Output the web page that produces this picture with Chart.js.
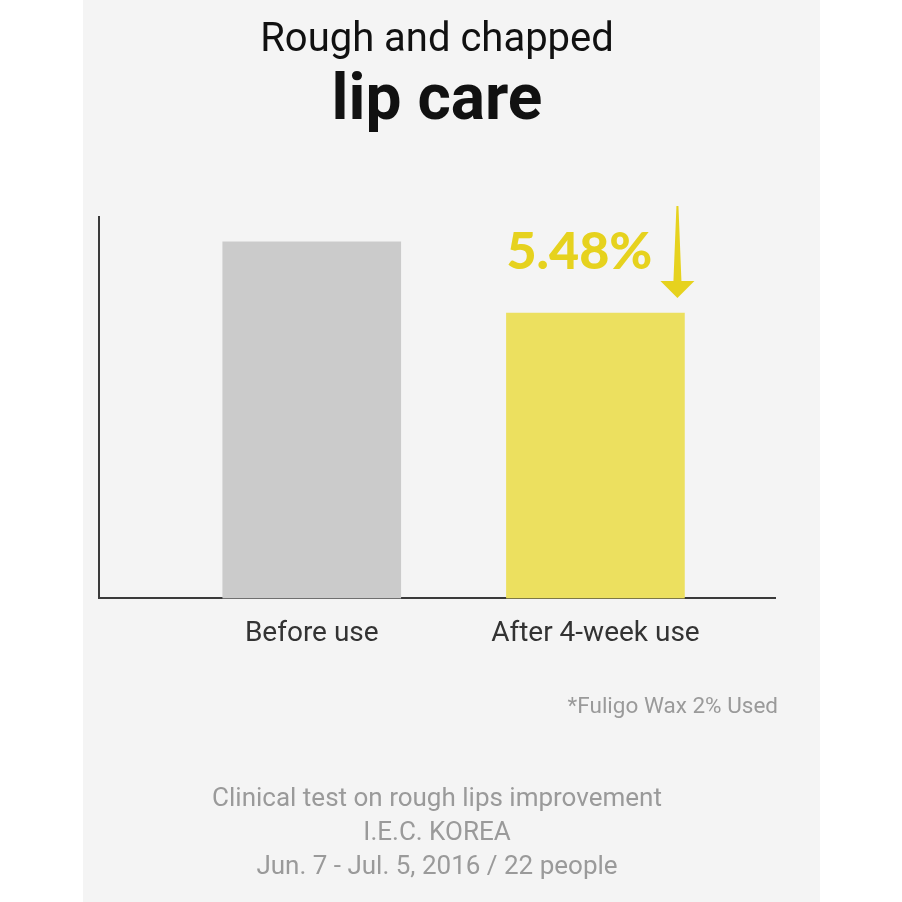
<!DOCTYPE html>
<html>
<head>
<meta charset="utf-8">
<script src="https://cdn.jsdelivr.net/npm/chart.js@4"></script>
<style>
  html, body { margin: 0; padding: 0; background: #ffffff; }
  #panel { position: absolute; left: 83px; top: 0; width: 737px; height: 902px; background: #f4f4f4; }
  #wrap { position: absolute; left: 0; top: 0; width: 708px; height: 902px; }
</style>
</head>
<body>
<div id="panel">
  <div id="wrap"><canvas id="chart"></canvas></div>
</div>
<script>
// Chart data
const categories = ['Before use', 'After 4-week use'];
const values = [100, 80];
const barColors = ['#cbcbcb', '#ece05f'];
const changeLabel = '5.48%';
const footnote = '*Fuligo Wax 2% Used';
const footerLines = [
  'Clinical test on rough lips improvement',
  'I.E.C. KOREA',
  'Jun. 7 - Jul. 5, 2016 / 22 people'
];

const accent = '#e6d21e';

// Draws the change label, arrow and notes below the chart
const notesPlugin = {
  id: 'notes',
  afterDatasetsDraw(chart) {
    const ctx = chart.ctx;
    const area = chart.chartArea;
    const bar = chart.getDatasetMeta(0).data[1];
    const half = bar.width / 2;

    ctx.save();
    // change label
    ctx.fillStyle = accent;
    ctx.font = '900 52px Lato';
    ctx.textAlign = 'left';
    ctx.textBaseline = 'alphabetic';
    ctx.fillText(changeLabel, bar.x - half, bar.y - 44);

    // down arrow
    const ax = bar.x + half - 7;
    const tip = bar.y - 15;
    const head = tip - 17;
    const top = tip - 92;
    ctx.beginPath();
    ctx.moveTo(ax - 1, top);
    ctx.lineTo(ax + 1, top);
    ctx.lineTo(ax + 4, head);
    ctx.lineTo(ax + 17, head);
    ctx.lineTo(ax, tip);
    ctx.lineTo(ax - 17, head);
    ctx.lineTo(ax - 4, head);
    ctx.closePath();
    ctx.fill();

    // footnote
    ctx.fillStyle = '#9a9a9a';
    ctx.font = '22.5px Roboto';
    ctx.textAlign = 'right';
    ctx.textBaseline = 'middle';
    ctx.fillText(footnote, area.right + 3, area.bottom + 109);

    // footer
    ctx.font = '26px Roboto';
    ctx.textAlign = 'center';
    footerLines.forEach((line, i) => {
      ctx.fillText(line, chart.width / 2, area.bottom + 201 + i * 34);
    });
    ctx.restore();
  }
};

const ctx = document.getElementById('chart');

new Chart(ctx, {
  type: 'bar',
  data: {
    datasets: [{
      data: values.map((v, i) => ({ x: i + 1, y: v })),
      backgroundColor: barColors,
      borderWidth: 0,
      barThickness: 178
    }]
  },
  options: {
    responsive: true,
    maintainAspectRatio: false,
    animation: false,
    layout: {
      padding: { left: 16, right: 16, top: 0, bottom: 240 }
    },
    plugins: {
      legend: { display: false },
      tooltip: { enabled: false },
      title: {
        display: true,
        text: 'Rough and chapped',
        color: '#111111',
        font: { family: 'Roboto', size: 40, weight: 'normal', lineHeight: 1.2 },
        padding: { top: 17, bottom: 0 }
      },
      subtitle: {
        display: true,
        text: 'lip care',
        color: '#111111',
        font: { family: 'Roboto', size: 64, weight: 'bold', lineHeight: 1.2 },
        padding: { top: 0, bottom: 75 }
      }
    },
    scales: {
      x: {
        type: 'linear',
        min: 0.25,
        max: 2.633,
        offset: false,
        grid: { display: false, offset: false },
        border: { display: true, color: '#3a3a3a', width: 2 },
        afterBuildTicks: (axis) => {
          axis.ticks = categories.map((c, i) => ({ value: i + 1 }));
        },
        ticks: {
          color: '#333333',
          padding: 11,
          font: { family: 'Roboto', size: 28, lineHeight: 1.2 },
          callback: (value) => categories[value - 1] || ''
        }
      },
      y: {
        min: 0,
        max: 107,
        grid: { display: false },
        border: { display: true, color: '#3a3a3a', width: 2 },
        ticks: { display: false },
        afterFit: (axis) => { axis.width = 0; }
      }
    }
  },
  plugins: [notesPlugin]
});
</script>
</body>
</html>
